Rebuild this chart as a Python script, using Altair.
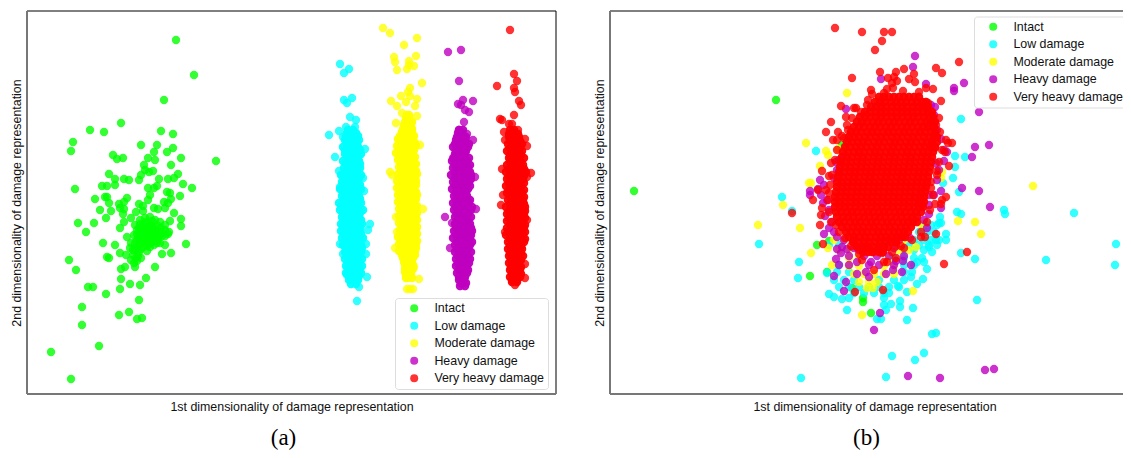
import altair as alt
import pandas as pd

CLASSES = ["Intact", "Low damage", "Moderate damage", "Heavy damage", "Very heavy damage"]
COLORS = ["#00ff00", "#00ffff", "#ffff00", "#bf00bf", "#ff0000"]
X_TITLE = "1st dimensionality of damage representation"
Y_TITLE = "2nd dimensionality of damage representation"

# ---------- panel (a): values ----------
a_intact = [(176,40),(194,75),(164,100),(121,123),(90,130),(104,132),(161,131),(173,134),(73,142),(71,151),(141,145),(157,145),(173,148),(167,152),(154,152),(113,155),(117,159),(123,158),(148,158),(155,160),(181,158),(216,161),(144,165),(171,165),(145,170),(149,172),(153,171),(109,174),(141,175),(178,174),(115,179),(124,179),(129,180),(139,180),(159,179),(168,179),(174,178),(183,184),(115,185),(102,186),(107,186),(75,189),(148,188),(154,188),(157,186),(192,188),(167,192),(170,193),(180,196),(150,195),(105,197),(107,197),(95,199),(127,198),(124,202),(148,200),(171,199),(109,203),(119,204),(164,202),(168,203),(139,204),(143,206),(100,210),(111,211),(120,208),(124,209),(154,208),(158,209),(165,208),(143,211),(136,212),(174,213),(123,214),(106,218),(131,218),(181,219),(94,223),(78,223),(124,222),(120,228),(181,226),(86,232),(170,221),(169,232),(127,237),(103,243),(115,245),(186,244),(165,245),(120,253),(162,254),(171,253),(126,255),(107,257),(109,258),(69,260),(76,270),(121,269),(125,267),(135,267),(155,267),(146,278),(121,279),(130,284),(140,285),(120,289),(88,287),(93,287),(106,294),(139,300),(82,307),(119,315),(129,312),(137,319),(142,318),(82,325),(99,346),(51,352),(71,379),
(140,220),(150,217),(155,220),(160,222),(146,222),(135,225),(142,226),(150,225),(158,226),(165,225),(137,230),(144,231),(151,230),(158,231),(165,230),(134,235),(141,236),(148,235),(155,236),(162,236),(168,234),(137,240),(144,241),(151,241),(158,240),(131,243),(139,245),(147,246),(154,245),(160,243),(130,248),(135,250),(141,249),(147,251),(133,255),(138,256),(131,260),(137,261),(141,258),(134,263),
(145,218),(152,221),(140,224),(147,227),(154,228),(161,228),(139,228),(141,232),(148,232),(155,233),(162,233),(137,234),(144,237),(151,238),(158,237),(165,236),(140,242),(147,243),(154,241),(135,243),(143,247),(150,247),(137,247),(133,250),(139,252),(136,258),
(146,229),(150,233),(143,234),(153,235),(147,240),(150,243),(156,231),(145,224),(152,226),(141,239),(157,243),(149,228),(139,237),(160,234)]

a_low_out = [(340,64),(349,69),(344,73),(352,98),(344,100),(347,103),(350,117),(356,120),(346,127),(355,127),(339,131),(329,135),(343,137),(365,149),(335,157),(339,171),(363,178),(340,187),(364,191),(370,224),(368,230),(366,244),(340,244),(366,254),(367,277),(359,287),(357,301),(343,254),(347,275)]
a_low_rows = {130:[348,353],133:[347,352,356],136:[346,351,355,358],140:[345,350,355,359],143:[347,352,357],147:[343,348,353,358],150:[345,351,356,360],154:[345,350,355,361],157:[347,352,358],161:[343,349,354,359],164:[346,351,356,360],168:[344,349,355,360],171:[346,352,357],175:[341,347,352,357,361],178:[344,350,355,359],182:[342,347,353,358],185:[345,350,356,360],189:[340,346,351,356,361],192:[343,348,354,358],196:[342,347,353,359],199:[344,350,356,360],203:[339,344,350,355,361],206:[342,347,353,358],210:[340,345,351,357,363],213:[343,348,354,360],217:[342,348,353,359],220:[344,350,356,361],224:[341,346,352,357,362],227:[343,349,355,360],231:[341,347,353,360],234:[344,350,356,361],238:[342,347,352,358,363],241:[345,350,355,360],245:[343,349,355,361],248:[346,352,358,362],252:[345,350,356,361],255:[347,353,359],259:[345,351,356,362],262:[348,354,360],266:[346,351,357,362],269:[348,354,360],273:[346,352,358,361],276:[349,355,359],280:[349,353,358],284:[351,356]}

a_mod_out = [(383,28),(390,33),(417,38),(404,45),(394,57),(416,56),(395,62),(409,61),(414,66),(397,70),(407,69),(409,65),(422,83),(410,88),(401,96),(408,92),(391,101),(406,102),(410,96),(417,99),(415,106),(397,106),(402,113),(417,116),(396,123),(420,145),(390,172),(392,175),(423,209),(396,217),(395,248),(397,232),(419,279),(407,289),(413,289),(410,289),(408,278),(414,267)]
a_mod_rows = {115:[407,409],118:[406,409],122:[405,409,412],125:[404,408,411],129:[403,408,412],132:[402,407,412],136:[400,405,410,414],139:[398,403,408,413],143:[400,405,410,415],146:[397,402,407,412,416],150:[399,404,409,414],153:[396,401,406,411],157:[399,405,410,415],160:[398,403,408,413],164:[401,406,411,416],167:[399,404,409,414],171:[401,406,411,416],174:[398,403,408,413,417],178:[400,405,410,415],181:[397,402,407,412,416],185:[399,405,411,416],188:[397,402,408,414],192:[400,405,411,416],195:[398,403,408,413,417],199:[400,406,411,416],202:[398,404,409,414],206:[401,406,412,417],209:[399,404,410,415],213:[401,407,413,417],216:[399,405,410,416],220:[401,406,412,417],223:[399,404,409,415],227:[402,407,413,417],230:[400,405,410,416],234:[401,406,412,417],237:[398,403,409,415],241:[401,407,413,417],244:[399,404,410,416],248:[401,408,413,416],251:[399,405,411,415],255:[402,406,412,415],258:[403,408,413],262:[404,408,412],265:[405,409,413],269:[405,410,413],272:[405,410],275:[406,411],278:[406,412]}

a_heavy_out = [(448,52),(461,50),(459,81),(463,100),(473,101),(458,104),(461,105),(465,110),(469,112),(464,122),(459,130),(467,134),(473,140),(445,217),(450,248),(475,177),(476,209),(452,223),(453,158)]
a_heavy_rows = {130:[459,463],133:[458,462],137:[457,461,466],140:[456,461,465],144:[455,460,465,469],147:[453,458,463,468],151:[456,461,466],154:[455,460,465],158:[454,459,464,469],161:[452,457,462,467],165:[455,460,465,470],168:[453,458,463,468],172:[455,460,465,470],175:[451,456,461,466,471],179:[455,460,466,471],182:[453,458,464,469],186:[455,461,466,470],189:[452,458,463,468],193:[456,461,466],196:[454,459,464,467],200:[456,461,466,470],203:[453,458,463,469],207:[456,462,467,472],210:[454,459,465,471],214:[457,462,468],217:[455,460,465,471],221:[457,463,468],224:[455,460,466,470],228:[456,461,467,471],231:[454,459,464,469,472],235:[456,461,467,471],238:[453,458,464,470],242:[457,462,468,472],245:[455,460,465,470],249:[457,463,468],252:[455,460,466,471],256:[458,463,468],259:[456,461,466,470],263:[458,464,469],266:[456,462,467],270:[459,464,468],273:[457,462,467],277:[459,465],280:[459,464],283:[461,466],286:[460,465]}

a_vheavy_out = [(510,30),(514,74),(517,81),(497,86),(514,88),(515,92),(519,101),(521,105),(514,115),(500,119),(502,120),(509,124),(512,124),(518,130),(504,132),(525,139),(527,146),(505,140),(531,173),(502,169),(527,177),(503,195),(501,205),(527,220),(505,232),(525,264),(525,278),(515,285)]
a_vheavy_rows = {130:[510,514],134:[509,513,518],137:[509,514,519],141:[510,515,520],144:[508,513,518,522],148:[510,515,520],151:[507,512,517,522],155:[510,516,521],158:[509,514,519,524],162:[510,515,521],165:[507,512,517,523],169:[509,514,519,524],172:[506,511,516,521,526],176:[509,514,520,524],179:[507,512,518,523],183:[509,514,519,524],186:[506,511,516,521],190:[509,514,519,524],193:[507,512,517,522],197:[510,515,520,524],200:[508,513,518,523],204:[510,515,520,524],207:[506,511,516,522,525],211:[509,514,520,525],214:[507,512,518,524],218:[509,515,520,525],221:[507,512,517,522],225:[510,515,520,525],228:[507,512,518,524],232:[509,514,520,525],235:[506,511,517,523],239:[510,515,521,525],242:[508,513,519,524],246:[510,515,521],249:[508,513,518,522],253:[510,516,521],256:[509,514,519,523],260:[511,516,521],263:[509,514,519],267:[511,516,521],270:[510,515,520],274:[512,517,521],277:[510,515,520],280:[512,517],282:[512,517]}

# ---------- panel (b): values ----------
b_intact = [(635,191),(777,100),(818,245),(830,241),(811,276),(828,272),(864,298),(864,302),(872,313),(853,288),(850,138),(843,145)]

b_low_out = [(783,197),(793,211),(760,244),(800,262),(799,278),(817,151),(962,119),(956,156),(966,157),(956,167),(954,178),(944,183),(960,192),(1005,210),(1006,214),(1075,213),(958,212),(962,214),(941,217),(940,223),(942,223),(1117,244),(1116,265),(1047,260),(947,234),(947,240),(962,253),(976,259),(933,252),(978,300),(928,269),(924,279),(918,284),(914,308),(908,320),(901,301),(901,307),(892,304),(933,334),(937,333),(893,356),(916,360),(925,353),(802,378),(887,377),(878,319),(882,319),(848,310),(830,294),(835,297),(843,299),(850,298),(828,273),(885,298),(885,305),(887,310),(899,286),(908,292),(912,277),(925,262),(918,262),(930,247),(937,240)]
b_low_rows = {225:[925,932,938],232:[920,928,935],240:[915,925,932,940],245:[830,840,910,920,930,938],250:[905,915,925],258:[895,905,915,923],265:[840,905,915],272:[838,850,905,913],280:[835,845,855,880,895,905],287:[840,850,860,870,880,890,900],293:[855,865,875,885,890]}

b_mod_out = [(848,93),(879,100),(807,143),(827,151),(829,155),(839,149),(821,166),(810,183),(812,183),(784,205),(759,225),(801,228),(1034,186),(959,221),(976,222),(982,234),(812,253),(943,172),(942,178),(914,291),(863,315),(829,248),(833,265),(923,225),(917,247)]
b_mod_rows = {240:[835,845,895,905],250:[840,850,900,910],258:[850,860,890],266:[850,860,885,895],274:[855,865,875,885,895],282:[860,870,878],288:[868,874]}

b_heavy = [(916,56),(914,67),(882,79),(927,84),(965,83),(955,88),(955,91),(936,107),(847,109),(980,112),(976,147),(990,145),(973,157),(963,188),(980,191),(991,207),(942,139),(948,152),(945,161),(821,180),(811,191),(811,195),(819,189),(824,203),(942,191),(942,208),(930,214),(825,234),(838,237),(843,247),(838,249),(848,249),(842,253),(837,259),(840,265),(835,276),(847,282),(845,291),(858,274),(867,272),(870,277),(887,274),(894,270),(903,272),(912,265),(897,261),(904,261),(911,238),(881,313),(875,330),(986,370),(995,369),(909,376),(941,378),(860,250),(872,262),(858,262),(840,160),(837,162),(937,163),(923,205),(930,195),
(825,185),(822,195),(828,200),(830,210),(826,216),(833,222),(830,228),(835,232),(838,170),(835,178),(845,240),(855,240),(890,240),(900,240),(855,248),(865,248),(880,248),(895,248),(850,256),(865,256),(878,256),(890,256),(905,256),(850,265),(870,265),(880,265),(895,265),(945,150),(940,170),(938,180),(935,195),(930,205),(925,220),(928,228),(938,130),(935,115),(932,105)]

b_vheavy_out = [(836,28),(863,32),(885,32),(893,32),(883,41),(876,50),(960,62),(937,68),(943,73),(905,69),(897,72),(881,72),(915,74),(853,78),(910,79),(916,82),(889,78),(895,77),(898,81),(893,83),(927,88),(934,89),(872,90),(888,89),(894,88),(904,91),(920,92),(873,94),(869,100),(885,93),(942,101),(842,106),(855,108),(857,108),(929,103),(927,108),(847,117),(832,122),(827,132),(839,132),(848,125),(834,140),(838,140),(845,138),(947,140),(949,143),(953,143),(946,152),(950,166),(823,171),(830,176),(832,163),(938,171),(932,182),(932,188),(827,190),(830,193),(819,190),(814,200),(947,197),(943,200),(942,204),(936,204),(793,213),(823,208),(822,215),(821,225),(824,244),(837,225),(937,234),(926,237),(922,237),(968,252),(945,264),(875,270),(856,292),(884,290),(863,260),(885,262),(897,258),(888,262),(902,246),(897,246),(873,252),(870,248),(883,253),(937,125),(930,125),(936,148),(933,145),
(868,105),(862,112),(853,118),(849,130),(843,136),(838,150),(836,160),(833,175),(831,185),(829,200),(830,212),(832,222),(840,232),(846,238),(852,246),(860,254),(940,118),(941,132),(943,150),(940,162),(938,175),(934,195),(931,210),(928,222),(922,232),(913,240),(905,248),(893,252)]
b_vheavy_rows = {
 97:[880,885,890,895,900,905,910,915,920],
 102:[876,881,886,892,897,902,907,913,918,923,927],
 107:[872,877,882,887,893,898,903,908,914,919,924,929],
 112:[866,871,877,882,887,892,898,903,908,913,919,924,929,933],
 117:[861,866,871,877,882,887,893,898,903,909,914,919,925,930,934],
 122:[858,863,868,874,879,884,890,895,900,906,911,916,922,927,932,936],
 127:[855,860,865,871,876,881,887,892,897,903,908,913,919,924,929,935],
 132:[852,857,862,868,873,878,884,889,894,900,905,910,916,921,926,932,936],
 137:[850,855,860,866,871,877,882,887,893,898,903,909,914,919,925,930,935,938],
 142:[848,853,859,864,869,875,880,885,891,896,901,907,912,917,923,928,933,938],
 147:[846,851,857,862,867,873,878,883,889,894,899,905,910,915,921,926,931,936],
 152:[844,849,855,860,865,871,876,881,887,892,897,903,908,913,919,924,929,934],
 157:[843,848,853,859,864,869,875,880,885,891,896,901,907,912,917,923,928,933],
 162:[842,847,852,858,863,868,874,879,884,890,895,900,906,911,916,922,927,932],
 167:[841,846,851,857,862,867,873,878,883,889,894,899,905,910,915,921,926,931],
 172:[840,845,851,856,861,867,872,877,883,888,893,899,904,909,915,920,925,930],
 177:[839,844,850,855,860,866,871,876,882,887,892,898,903,908,914,919,924,929],
 182:[838,843,849,854,859,865,870,875,881,886,891,897,902,907,913,918,923,928],
 187:[838,843,848,853,859,864,869,875,880,885,891,896,901,907,912,917,923,927],
 192:[837,842,847,853,858,863,869,874,879,885,890,895,901,906,911,917,922,926],
 197:[836,841,847,852,857,863,868,873,879,884,889,895,900,905,911,916,921,925],
 202:[836,841,846,852,857,862,868,873,878,884,889,894,900,905,910,916,920,925],
 207:[836,841,846,851,857,862,867,873,878,883,889,894,899,905,910,915,920,924],
 212:[837,842,848,853,858,864,869,874,880,885,890,896,901,906,912,917,922],
 217:[838,844,849,854,860,865,870,876,881,886,892,897,902,908,913,918],
 222:[840,845,851,856,861,867,872,877,883,888,893,899,904,909,914,918],
 227:[843,848,854,859,864,870,875,880,886,891,896,902,907,912],
 232:[847,852,858,863,868,874,879,884,890,895,900,905,909],
 237:[850,855,861,866,871,877,882,887,893,898,903,906],
 242:[854,860,865,870,876,881,886,892,897],
 247:[858,864,869,874,880,885,889],
 252:[864,869,874,880,884],
}

def unroll(rows):
    return [(x, y) for y, xs in rows.items() for x in xs]

def frame(series):
    recs = []
    for name, pts in zip(CLASSES, series):
        recs += [{"x": x, "y": y, "cls": name} for x, y in pts]
    return pd.DataFrame(recs)

# the dense clouds hold more points than can be told apart, so their rows are drawn twice to saturate
df_a = frame([a_intact, a_low_out + unroll(a_low_rows) * 2, a_mod_out + unroll(a_mod_rows) * 2,
              a_heavy_out + unroll(a_heavy_rows) * 2, a_vheavy_out + unroll(a_vheavy_rows) * 2])
df_b = frame([b_intact, b_low_out + unroll(b_low_rows), b_mod_out + unroll(b_mod_rows),
              b_heavy, b_vheavy_out + unroll(b_vheavy_rows) * 2])

ONE = pd.DataFrame({"k": [0]})

def border(color, width, **enc):
    return alt.Chart(ONE).mark_rule(color=color, strokeWidth=width).encode(**enc)

def panel(df, xdom, caption, lx, ly):
    points = alt.Chart(df).mark_circle(size=70, opacity=0.8).encode(
        x=alt.X("x:Q", scale=alt.Scale(domain=xdom, nice=False, zero=False),
                axis=alt.Axis(title=X_TITLE, labels=False, ticks=False, domain=False, grid=False, titlePadding=6)),
        y=alt.Y("y:Q", scale=alt.Scale(domain=[394, 11], nice=False, zero=False),
                axis=alt.Axis(title=Y_TITLE, labels=False, ticks=False, domain=False, grid=False, titlePadding=4)),
        color=alt.Color("cls:N", scale=alt.Scale(domain=CLASSES, range=COLORS),
                        legend=alt.Legend(title=None, orient="none", legendX=lx, legendY=ly, fillColor="white",
                                          strokeColor="#dddddd", cornerRadius=3, padding=4, symbolOffset=9,
                                          labelOffset=14, rowPadding=4.5, symbolSize=64, labelFontSize=12.4,
                                          labelFont="Liberation Sans", labelColor="#111111", symbolStrokeWidth=0,
                                          symbolType="circle")),
    )
    top = border("#000000", 1, y=alt.value(0), x=alt.value(0), x2=alt.value(529))
    right = border("#000000", 1, x=alt.value(529), y=alt.value(0), y2=alt.value(383))
    left = border("#777777", 2, x=alt.value(0), y=alt.value(0), y2=alt.value(383))
    bottom = border("#777777", 2, y=alt.value(383), x=alt.value(0), x2=alt.value(529))
    return alt.layer(points, top, right, left, bottom).properties(
        width=529, height=383,
        title=alt.TitleParams(caption, orient="bottom", font="Liberation Serif", fontSize=23,
                              fontWeight="normal", color="black", offset=15, dx=-8))

chart = alt.hconcat(panel(df_a, [27, 556], "(a)", 368, 287),
                    panel(df_b, [611, 1140], "(b)", 364, 5.5), spacing=36
    ).resolve_scale(color="independent").configure_view(stroke=None
    ).configure_axis(titleFont="Liberation Sans", titleFontSize=12.4, titleFontWeight="normal", titleColor="#111111"
    ).properties(padding={"left": 2, "top": 2, "right": -17, "bottom": 0})

chart.save("out.html", embed_options={"renderer": "svg", "actions": False})
